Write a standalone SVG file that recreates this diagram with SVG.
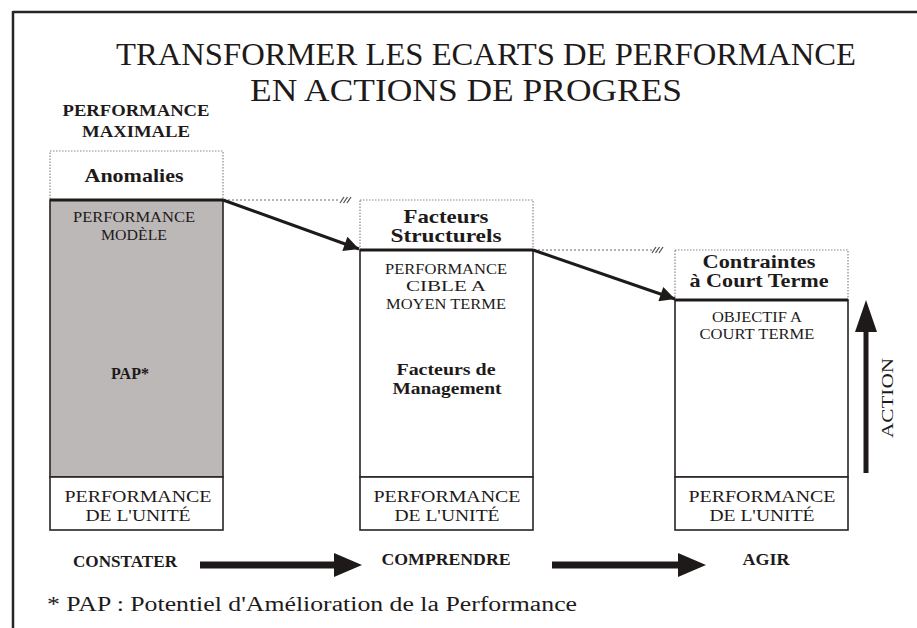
<svg xmlns="http://www.w3.org/2000/svg" width="917" height="628" viewBox="0 0 917 628" font-family="Liberation Serif, Times New Roman, serif">
<style>
text{font-family:'Liberation Serif','Times New Roman',serif;fill:#1e1a1a;text-anchor:middle}
.t{font-size:32px}
.b{font-weight:bold}
.r15{font-size:15px}
.r16{font-size:16px}
.b17{font-size:17px;font-weight:bold}
.b16{font-size:16px;font-weight:bold}
.box{fill:#fff;stroke:#2a2424;stroke-width:1.6}
.dot{fill:#fff;stroke:#8a8686;stroke-width:1.2;stroke-dasharray:1.5 1.5}
.thick{stroke:#1e1a1a;stroke-width:3}
.dl{stroke:#6a6666;stroke-width:1.2;stroke-dasharray:2 2;fill:none}
.hatch{stroke:#555;stroke-width:1.3;fill:none}
.conn{stroke:#1e1a1a;stroke-width:3;fill:none}
</style>
<defs>
<marker id="ah" viewBox="0 0 10 10" refX="10" refY="5" markerWidth="6.5" markerHeight="5" markerUnits="strokeWidth" orient="auto">
<path d="M0,0 L10,5 L0,10 z" fill="#1e1a1a"/>
</marker>
</defs>
<rect x="0" y="0" width="917" height="628" fill="#fff"/>
<g id="frame">
<line x1="13" y1="12" x2="917" y2="12" stroke="#2a2424" stroke-width="2.5"/>
<line x1="13" y1="11" x2="13" y2="628" stroke="#2a2424" stroke-width="2.5"/>
</g>
<g id="title">
<text class="t" x="486" y="65" textLength="740" lengthAdjust="spacingAndGlyphs">TRANSFORMER LES ECARTS DE PERFORMANCE</text>
<text class="t" x="466" y="101" textLength="432" lengthAdjust="spacingAndGlyphs">EN ACTIONS DE PROGRES</text>
</g>
<g id="perf-max">
<text class="b17" x="136" y="116" textLength="147" lengthAdjust="spacingAndGlyphs">PERFORMANCE</text>
<text class="b17" x="136" y="137" textLength="108" lengthAdjust="spacingAndGlyphs">MAXIMALE</text>
</g>
<g id="col1">
<rect class="dot" x="50" y="151" width="173" height="49"/>
<text class="b" x="134" y="182" font-size="19" textLength="99" lengthAdjust="spacingAndGlyphs">Anomalies</text>
<rect x="50" y="200" width="173" height="277" fill="#bcb8b8" stroke="#2a2424" stroke-width="1.6"/>
<line class="thick" x1="50" y1="200" x2="223" y2="200"/>
<text class="r15" x="134" y="222" textLength="122" lengthAdjust="spacingAndGlyphs">PERFORMANCE</text>
<text class="r15" x="134" y="240" textLength="66" lengthAdjust="spacingAndGlyphs">MODÈLE</text>
<text class="b" x="130" y="379" font-size="16" textLength="38" lengthAdjust="spacingAndGlyphs">PAP*</text>
<rect class="box" x="50" y="477" width="173" height="53"/>
<text class="r16" x="138" y="502" textLength="147" lengthAdjust="spacingAndGlyphs">PERFORMANCE</text>
<text class="r16" x="138" y="521" textLength="105" lengthAdjust="spacingAndGlyphs">DE L'UNITÉ</text>
</g>
<g id="col2">
<rect class="dot" x="360" y="200" width="173" height="50"/>
<text class="b" x="446" y="223" font-size="19" textLength="85" lengthAdjust="spacingAndGlyphs">Facteurs</text>
<text class="b" x="446" y="242" font-size="19" textLength="111" lengthAdjust="spacingAndGlyphs">Structurels</text>
<rect class="box" x="360" y="250" width="173" height="227"/>
<line class="thick" x1="360" y1="250" x2="533" y2="250"/>
<text class="r15" x="446" y="274" textLength="122" lengthAdjust="spacingAndGlyphs">PERFORMANCE</text>
<text class="r15" x="446" y="291" textLength="80" lengthAdjust="spacingAndGlyphs">CIBLE A</text>
<text class="r15" x="446" y="309" textLength="120" lengthAdjust="spacingAndGlyphs">MOYEN TERME</text>
<text class="b" x="446" y="375" font-size="17" textLength="99" lengthAdjust="spacingAndGlyphs">Facteurs de</text>
<text class="b" x="447" y="394" font-size="17" textLength="109" lengthAdjust="spacingAndGlyphs">Management</text>
<rect class="box" x="360" y="477" width="173" height="53"/>
<text class="r16" x="447" y="502" textLength="147" lengthAdjust="spacingAndGlyphs">PERFORMANCE</text>
<text class="r16" x="447" y="521" textLength="105" lengthAdjust="spacingAndGlyphs">DE L'UNITÉ</text>
</g>
<g id="col3">
<rect class="dot" x="675" y="250" width="173" height="50"/>
<text class="b" x="759" y="268" font-size="18" textLength="113" lengthAdjust="spacingAndGlyphs">Contraintes</text>
<text class="b" x="759" y="287" font-size="18" textLength="139" lengthAdjust="spacingAndGlyphs">à Court Terme</text>
<rect class="box" x="675" y="300" width="173" height="177"/>
<line class="thick" x1="675" y1="300" x2="848" y2="300"/>
<text class="r15" x="757" y="322" textLength="90" lengthAdjust="spacingAndGlyphs">OBJECTIF A</text>
<text class="r15" x="757" y="339" textLength="115" lengthAdjust="spacingAndGlyphs">COURT TERME</text>
<rect class="box" x="675" y="477" width="173" height="53"/>
<text class="r16" x="762" y="502" textLength="147" lengthAdjust="spacingAndGlyphs">PERFORMANCE</text>
<text class="r16" x="762" y="521" textLength="105" lengthAdjust="spacingAndGlyphs">DE L'UNITÉ</text>
</g>
<g id="action">
<line x1="866" y1="473" x2="866" y2="326" stroke="#1e1a1a" stroke-width="5"/>
<path d="M855,332 L866,300 L877,332 z" fill="#1e1a1a"/>
<text x="0" y="0" font-size="17" textLength="80" lengthAdjust="spacingAndGlyphs" transform="translate(893,398) rotate(-90)">ACTION</text>
</g>
<g id="connectors">
<line class="dl" x1="224" y1="200" x2="340" y2="200"/>
<path class="hatch" d="M340,203 L344,197 M343.5,203 L347.5,197 M347,203 L351,197"/>
<line class="dl" x1="534" y1="250" x2="652" y2="250"/>
<path class="hatch" d="M652,253 L656,247 M655.5,253 L659.5,247 M659,253 L663,247"/>
<line class="conn" x1="223" y1="200" x2="359" y2="249" marker-end="url(#ah)"/>
<line class="conn" x1="533" y1="250" x2="675" y2="299" marker-end="url(#ah)"/>
</g>
<g id="steps">
<text class="b16" x="125" y="567" textLength="104" lengthAdjust="spacingAndGlyphs">CONSTATER</text>
<text class="b16" x="446" y="565" textLength="129" lengthAdjust="spacingAndGlyphs">COMPRENDRE</text>
<text class="b16" x="766" y="565" textLength="47" lengthAdjust="spacingAndGlyphs">AGIR</text>
<path d="M200,561.5 L334,561.5 L334,553 L362,565 L334,577 L334,568.5 L200,568.5 z" fill="#1e1a1a"/>
<path d="M552,561.5 L678,561.5 L678,553 L706,565 L678,577 L678,568.5 L552,568.5 z" fill="#1e1a1a"/>
</g>
<g id="footer">
<text x="47" y="611" font-size="20" style="text-anchor:start" textLength="530" lengthAdjust="spacingAndGlyphs">* PAP : Potentiel d'Amélioration de la Performance</text>
</g>
</svg>
